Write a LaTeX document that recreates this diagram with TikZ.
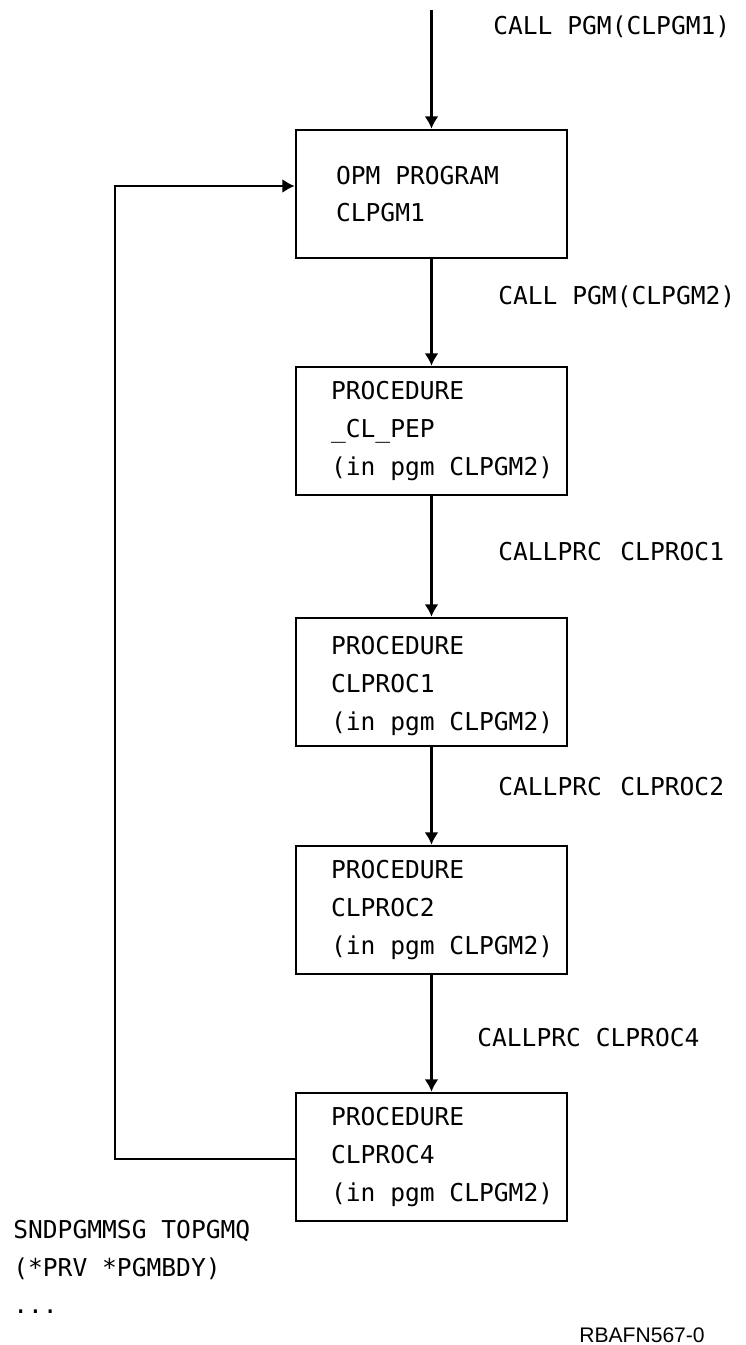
\documentclass[tikz,border=0pt]{standalone}
\usepackage{fontspec}
\usepackage{tikz}
\usetikzlibrary{arrows.meta}
\newfontfamily\boxfont{DejaVu Sans Mono}
\newfontfamily\tagfont{Liberation Sans}

\begin{document}
\begin{tikzpicture}[x=0.02cm, y=-0.02cm, >={Latex[length=7pt,width=8pt]}, line width=1.5pt,
    box/.style={draw, rectangle, minimum width=5.42cm, minimum height=2.56cm, inner sep=0pt},
    txt/.style={anchor=west, align=left, inner sep=0pt, font=\boxfont\fontsize{14}{21.5}\selectfont},
    lbl/.style={anchor=base west, inner sep=0pt, font=\boxfont\fontsize{14}{17}\selectfont}]
    \useasboundingbox (0,0) rectangle (746,1345);
    % boxes
    \node[box] (pgm1) at (431.5,194) {};
    \node[box] (pep) at (431.5,431) {};
    \node[box] (proc1) at (431.5,682) {};
    \node[box] (proc2) at (431.5,910) {};
    \node[box] (proc4) at (431.5,1157) {};
    \node[txt] (pgm1txt) at ([xshift=0.8cm]pgm1.west) {OPM PROGRAM\\CLPGM1};
    \node[txt] (peptxt) at ([xshift=0.7cm]pep.west) {PROCEDURE\\\_CL\_PEP\\(in pgm CLPGM2)};
    \node[txt] (proc1txt) at ([xshift=0.7cm,yshift=-0.08cm]proc1.west) {PROCEDURE\\CLPROC1\\(in pgm CLPGM2)};
    \node[txt] (proc2txt) at ([xshift=0.7cm]proc2.west) {PROCEDURE\\CLPROC2\\(in pgm CLPGM2)};
    \node[txt] (proc4txt) at ([xshift=0.7cm]proc4.west) {PROCEDURE\\CLPROC4\\(in pgm CLPGM2)};
    % calls
    \coordinate (start) at (431.5,10);
    \draw[->] (start) -- (pgm1.north);
    \draw[->] (pgm1.south) -- (pep.north);
    \draw[->] (pep.south) -- (proc1.north);
    \draw[->] (proc1.south) -- (proc2.north);
    \draw[->] (proc2.south) -- (proc4.north);
    \node[lbl] (call1) at (492,35) {CALL PGM(CLPGM1)};
    \node[lbl] (call2) at (497,304) {CALL PGM(CLPGM2)};
    \node[lbl] (call3) at (497,560) {CALLPRC\hspace{0.75em}CLPROC1};
    \node[lbl] (call4) at (497,795) {CALLPRC\hspace{0.75em}CLPROC2};
    \node[lbl] (call5) at (476,1046) {CALLPRC CLPROC4};
    % message back to the program boundary
    \coordinate (back) at (115,1159);
    \draw[->] (proc4.west |- back) -- (back) |- ([yshift=0.16cm]pgm1.west);
    \node[lbl] (msg1) at (12,1238) {SNDPGMMSG TOPGMQ};
    \node[lbl] (msg2) at (12,1276) {(*PRV *PGMBDY)};
    \node[lbl] (msg3) at (12,1313) {...};
    \node[anchor=base west, inner sep=0pt, font=\tagfont\fontsize{12}{14}\selectfont] (tag) at (578,1342) {RBAFN567-0};
\end{tikzpicture}
\end{document}
